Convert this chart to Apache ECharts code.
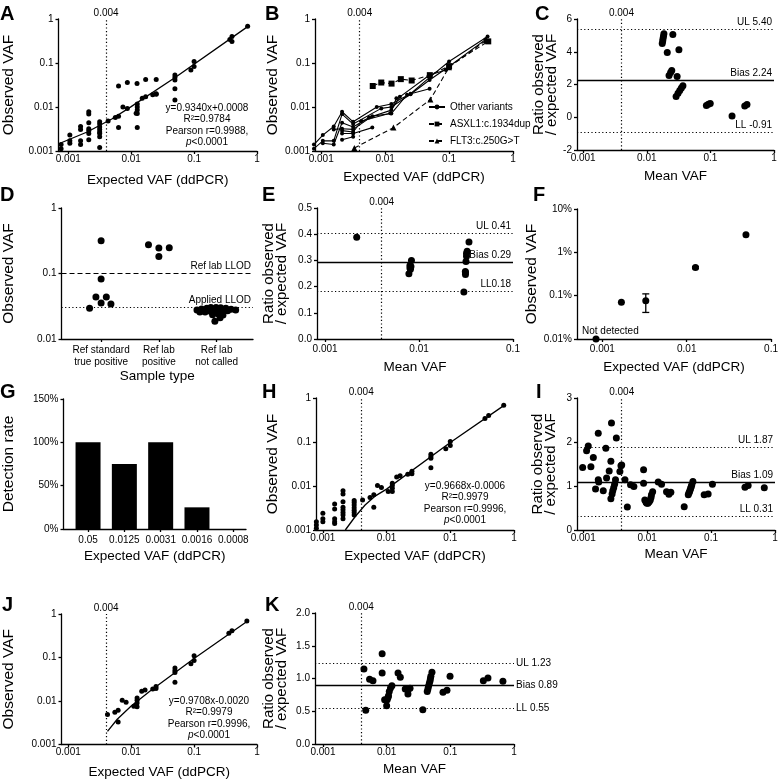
<!DOCTYPE html>
<html>
<head>
<meta charset="utf-8">
<title>VAF panels</title>
<script src="https://cdn.jsdelivr.net/npm/echarts@6/dist/echarts.min.js"></script>
<style>
html, body { margin: 0; padding: 0; background: #fff; }
#chart { width: 781px; height: 780px; }
</style>
</head>
<body>
<div id="chart"></div>
<script>
'use strict';

// ---- tick labels ----
var vafTicks = [0.001, 0.01, 0.1, 1];
var vafTickLabels = ['0.001', '0.01', '0.1', '1'];
var shortVafTicks = [0.001, 0.01, 0.1];
var shortVafTickLabels = ['0.001', '0.01', '0.1'];
var pctTicks = [0.0001, 0.001, 0.01, 0.1];
var pctTickLabels = ['0.01%', '0.1%', '1%', '10%'];
var dTicks = [0.01, 0.1, 1];
var dTickLabels = ['0.01', '0.1', '1'];
var lodVaf = 0.004;

// ---- A: observed vs expected, all variants ----
var aPoints = [
    [0.00077, 0.0014], [0.00077, 0.00113],
    [0.00106, 0.0017], [0.00106, 0.0023], [0.00106, 0.0015],
    [0.00157, 0.0036], [0.00157, 0.0031], [0.00157, 0.0017], [0.00157, 0.0014],
    [0.00212, 0.0078], [0.00212, 0.0069], [0.00212, 0.0044], [0.00212, 0.0032],
    [0.00212, 0.0029], [0.00212, 0.0025], [0.00212, 0.0018],
    [0.00316, 0.0046], [0.00316, 0.0041], [0.00316, 0.0035], [0.00316, 0.0031],
    [0.00316, 0.0027], [0.00316, 0.0025], [0.00316, 0.0021], [0.00316, 0.0012],
    [0.0043, 0.0048], [0.0056, 0.0058], [0.0063, 0.030], [0.0063, 0.0062], [0.0063, 0.0034],
    [0.0074, 0.010], [0.0087, 0.036], [0.0087, 0.0093],
    [0.012, 0.0072], [0.0124, 0.034], [0.0125, 0.0117], [0.0125, 0.010], [0.0125, 0.0085],
    [0.0125, 0.0071], [0.0125, 0.0034],
    [0.015, 0.0158], [0.017, 0.042], [0.017, 0.017], [0.022, 0.019], [0.025, 0.0195],
    [0.025, 0.042], [0.025, 0.020],
    [0.0496, 0.0535], [0.0496, 0.047], [0.0496, 0.041], [0.0496, 0.026], [0.0496, 0.0144],
    [0.089, 0.069], [0.1, 0.108], [0.1, 0.083], [0.37, 0.34], [0.4, 0.31], [0.4, 0.40], [0.71, 0.68]
];
var aFit = [[0.00074, 0.0015], [0.002, 0.0027], [0.005, 0.0054], [0.01, 0.0102], [0.05, 0.047], [0.71, 0.67]];
var aStats = ['y=0.9340x+0.0008', 'R\u00b2=0.9784', 'Pearson r=0.9988,', 'p<0.0001'];

// ---- B: per-variant dilution lines ----
var bOtherVariants = [
    [[0.00077, 0.0014], [0.00106, 0.0023], [0.00157, 0.0036], [0.00212, 0.0078], [0.00316, 0.0046],
     [0.0074, 0.010], [0.0125, 0.0117], [0.025, 0.020], [0.0496, 0.047], [0.1, 0.108], [0.4, 0.40]],
    [[0.00077, 0.00113], [0.00106, 0.0017], [0.00157, 0.0017], [0.00212, 0.0069], [0.00316, 0.0041],
     [0.0087, 0.0093], [0.0125, 0.010], [0.025, 0.0195], [0.0496, 0.041], [0.1, 0.083], [0.37, 0.34]],
    [[0.00106, 0.0015], [0.00157, 0.0014], [0.00212, 0.0044], [0.00316, 0.0035], [0.0056, 0.0058],
     [0.0125, 0.0085], [0.017, 0.017], [0.0496, 0.0535], [0.089, 0.069]],
    [[0.00157, 0.0031], [0.00212, 0.0032], [0.00316, 0.0031], [0.0063, 0.0062], [0.0125, 0.0071],
     [0.022, 0.019], [0.0496, 0.026]],
    [[0.00212, 0.0029], [0.00316, 0.0027], [0.0043, 0.0048], [0.012, 0.0072], [0.015, 0.0158]],
    [[0.00212, 0.0025], [0.00316, 0.0025], [0.0063, 0.0034]],
    [[0.00212, 0.0018], [0.00316, 0.0021]]
];
var bAsxl1 = [[0.0064, 0.030], [0.0087, 0.036], [0.0126, 0.034], [0.0176, 0.043], [0.026, 0.040],
    [0.05, 0.053], [0.1, 0.085], [0.41, 0.31]];
var bFlt3 = [[0.0033, 0.00117], [0.0135, 0.0034], [0.051, 0.0148], [0.1, 0.08], [0.38, 0.33]];
var bLegend = ['Other variants', 'ASXL1:c.1934dup', 'FLT3:c.250G>T'];

// ---- C: ratio vs mean VAF ----
var cPoints = [
    [0.0175, 4.5], [0.0178, 4.65], [0.018, 4.8], [0.0183, 4.95], [0.0186, 5.1],
    [0.021, 3.96], [0.0257, 5.06], [0.032, 4.12],
    [0.0224, 2.55], [0.0237, 2.73], [0.0247, 2.86], [0.030, 2.49],
    [0.0289, 1.27], [0.031, 1.47], [0.033, 1.63], [0.035, 1.78], [0.037, 1.92],
    [0.0865, 0.72], [0.093, 0.80], [0.0995, 0.84], [0.219, 0.08], [0.347, 0.68], [0.376, 0.78]
];
var cLimits = [5.40, 2.24, -0.91];
var cLimitLabels = ['UL 5.40', 'Bias 2.24', 'LL -0.91'];

// ---- D: observed VAF by sample type (x = category index + jitter) ----
var dCategories = ['Ref standard\ntrue positive', 'Ref lab\npositive', 'Ref lab\nnot called'];
var dTruePositive = [[0, 0.317], [0, 0.0824], [-0.09, 0.0438], [0.09, 0.0438], [0, 0.0355], [-0.2, 0.0294], [0.17, 0.0342]];
var dLabPositive = [[0.82, 0.275], [1, 0.245], [1.18, 0.248], [1, 0.181]];
var dNotCalled = [
    [1.66, 0.0278], [1.74, 0.0287], [1.83, 0.0294], [1.90, 0.0303], [1.99, 0.0303], [2.07, 0.030],
    [2.16, 0.0294], [2.25, 0.0285], [2.33, 0.0278], [1.71, 0.0258], [1.80, 0.0258], [1.90, 0.0263],
    [2.0, 0.0258], [2.10, 0.0263], [2.19, 0.027], [1.93, 0.0235], [2.03, 0.024], [2.11, 0.0232],
    [2.06, 0.0211], [1.97, 0.0187]
];
var dLimits = [0.1, 0.03];
var dLimitLabels = ['Ref lab LLOD', 'Applied LLOD'];

// ---- E ----
var ePoints = [
    [0.00217, 0.388], [0.0078, 0.249], [0.0080, 0.281], [0.0080, 0.271], [0.0083, 0.300],
    [0.0081, 0.266], [0.0082, 0.277], [0.030, 0.179], [0.0312, 0.254], [0.0312, 0.246],
    [0.0311, 0.258], [0.0316, 0.296], [0.032, 0.316], [0.032, 0.326], [0.0325, 0.335], [0.034, 0.370]
];
var eLimits = [0.405, 0.294, 0.182];
var eLimitLabels = ['UL 0.41', 'Bias 0.29', 'LL0.18'];

// ---- F ----
var fPoints = [[0.00168, 0.000706], [0.00327, 0.00076], [0.0127, 0.00447], [0.0504, 0.0255]];
var fNotDetected = [[0.00084, 0.0001]];
var fErrorBars = [[0.00327, 0.00041, 0.0011], [0.0127, 0.0042, 0.0047]];

// ---- G ----
var gCategories = ['0.05', '0.0125', '0.0031', '0.0016', '0.0008'];
var gDetectionRate = [1.0, 0.75, 1.0, 0.25, 0];

// ---- H ----
var hPoints = [
    [0.00079, 0.00155], [0.00079, 0.0013], [0.00079, 0.0011],
    [0.001, 0.0024], [0.001, 0.0018], [0.001, 0.00155],
    [0.00153, 0.0039], [0.00153, 0.0030], [0.00153, 0.0018], [0.00153, 0.00155], [0.00153, 0.0014],
    [0.00207, 0.0078], [0.00207, 0.0066], [0.00207, 0.0044], [0.00207, 0.0033], [0.00207, 0.0029],
    [0.00207, 0.0025], [0.00207, 0.0022], [0.00207, 0.0018],
    [0.0031, 0.0047], [0.0031, 0.0042], [0.0031, 0.0037], [0.0031, 0.0032], [0.0031, 0.0028],
    [0.0031, 0.0025], [0.0031, 0.0022],
    [0.0042, 0.0048], [0.0055, 0.0055], [0.0063, 0.0063], [0.0063, 0.0033], [0.0072, 0.0102],
    [0.0083, 0.0093], [0.0106, 0.0075],
    [0.0123, 0.0115], [0.0123, 0.0102], [0.0123, 0.0089], [0.0123, 0.0075],
    [0.0144, 0.016], [0.0163, 0.017], [0.0215, 0.0186], [0.025, 0.0215], [0.025, 0.019],
    [0.0496, 0.053], [0.0496, 0.047], [0.0496, 0.043], [0.0496, 0.026],
    [0.085, 0.070], [0.1, 0.103], [0.1, 0.083], [0.35, 0.34], [0.40, 0.40], [0.69, 0.68]
];
var hFit = [[0.00225, 0.001], [0.0032, 0.002], [0.0046, 0.0037], [0.0065, 0.0058], [0.01, 0.0085], [0.1, 0.097], [0.69, 0.67]];
var hStats = ['y=0.9668x-0.0006', 'R\u00b2=0.9979', 'Pearson r=0.9996,', 'p<0.0001'];

// ---- I ----
var iPoints = [
    [0.00098, 1.42], [0.00113, 1.80], [0.0012, 1.91], [0.00132, 1.44], [0.00144, 1.65], [0.00156, 0.93],
    [0.00172, 2.20], [0.00172, 1.14], [0.00175, 1.09], [0.00206, 0.89], [0.00226, 1.86], [0.00232, 1.18],
    [0.00255, 1.34], [0.00271, 1.56], [0.00277, 2.43], [0.00271, 0.71], [0.00283, 0.82], [0.0029, 0.89],
    [0.0030, 0.96], [0.0031, 1.04], [0.0033, 2.09], [0.0032, 1.14], [0.00375, 1.33], [0.0039, 1.46],
    [0.0040, 1.48], [0.0045, 1.14], [0.0049, 0.52], [0.0055, 1.03], [0.0062, 0.99], [0.0088, 1.37],
    [0.0088, 1.06], [0.0092, 0.68], [0.0096, 0.63], [0.0099, 0.61], [0.0103, 0.61], [0.0108, 0.64],
    [0.0112, 0.68], [0.0115, 0.74], [0.0117, 0.80], [0.0122, 0.87], [0.0149, 1.09], [0.0168, 1.04],
    [0.0201, 0.87], [0.0219, 0.81], [0.0235, 0.86], [0.038, 0.53], [0.044, 0.80], [0.045, 0.84],
    [0.046, 0.87], [0.047, 0.91], [0.048, 0.95], [0.049, 0.99], [0.050, 1.03], [0.052, 1.10],
    [0.078, 0.80], [0.090, 0.82], [0.105, 1.04], [0.339, 0.97], [0.38, 1.01], [0.68, 0.96]
];
var iLimits = [1.87, 1.09, 0.31];
var iLimitLabels = ['UL 1.87', 'Bias 1.09', 'LL 0.31'];

// ---- J ----
var jPoints = [
    [0.0042, 0.0049], [0.0055, 0.0055], [0.0062, 0.0061], [0.0062, 0.0033], [0.0072, 0.0104],
    [0.0083, 0.0093], [0.011, 0.0076], [0.0124, 0.0117], [0.0124, 0.0104], [0.0124, 0.009],
    [0.0124, 0.0074], [0.0147, 0.0167], [0.0166, 0.018], [0.022, 0.0188], [0.0248, 0.0216],
    [0.0248, 0.0195], [0.0496, 0.057], [0.0496, 0.050], [0.0496, 0.045], [0.0496, 0.027],
    [0.089, 0.072], [0.1, 0.109], [0.1, 0.085], [0.357, 0.36], [0.40, 0.41], [0.69, 0.69]
];
var jFit = [[0.0042, 0.002], [0.006, 0.0038], [0.01, 0.0077], [0.02, 0.017], [0.1, 0.095], [0.71, 0.69]];
var jStats = ['y=0.9708x-0.0020', 'R\u00b2=0.9979', 'Pearson r=0.9996,', 'p<0.0001'];

// ---- K ----
var kPoints = [
    [0.0044, 1.145], [0.0047, 0.514], [0.0054, 0.99], [0.0061, 0.967], [0.0085, 1.379], [0.0085, 1.084],
    [0.0093, 0.677], [0.010, 0.585], [0.0102, 0.677], [0.0105, 0.71], [0.0107, 0.738], [0.011, 0.80],
    [0.0115, 0.855], [0.0121, 0.89], [0.0151, 1.084], [0.0164, 1.018], [0.0196, 0.84], [0.0216, 0.82],
    [0.0216, 0.763], [0.0233, 0.85], [0.037, 0.524], [0.0434, 0.80], [0.0445, 0.84], [0.0455, 0.88],
    [0.0467, 0.92], [0.0478, 0.957], [0.0487, 0.995], [0.0495, 1.033], [0.0515, 1.094],
    [0.0767, 0.79], [0.0887, 0.82], [0.099, 1.033], [0.33, 0.967], [0.39, 1.008], [0.67, 0.957]
];
var kLimits = [1.23, 0.89, 0.55];
var kLimitLabels = ['UL 1.23', 'Bias 0.89', 'LL 0.55'];

// ---------------------------------------------------------------
var FONT = '"Liberation Sans", Arial, Helvetica, sans-serif';
var DOTTED = [1.2, 2.4];
var DASHED = [5, 3];

function baseAxis(grid, type, name, gap, labelMargin) {
    return {
        type: type,
        gridIndex: grid,
        name: name,
        nameLocation: 'middle',
        nameGap: gap,
        nameTextStyle: { color: '#000', fontSize: 13.5, fontFamily: FONT, lineHeight: 13 },
        axisLine: { onZero: false, lineStyle: { color: '#000', width: 1.3 } },
        axisTick: { length: 3, lineStyle: { color: '#000', width: 1.3 } },
        axisLabel: { color: '#000', fontSize: 10, fontFamily: FONT, margin: labelMargin },
        splitLine: { show: false }
    };
}

// vertical axis titles read a little larger in the reference
function tallName(axis) {
    var twoLines = axis.name.indexOf('\n') >= 0;
    axis.nameTextStyle.fontSize = twoLines ? 15 : 15.5;
    axis.nameTextStyle.lineHeight = twoLines ? 13 : 15;
    return axis;
}

function withTicks(axis, ticks, labels) {
    axis.axisTick.customValues = ticks;
    axis.axisLabel.customValues = ticks;
    axis.axisLabel.formatter = function (v) {
        for (var i = 0; i < ticks.length; i++) {
            if (Math.abs(v - ticks[i]) <= Math.abs(ticks[i]) * 1e-6 + 1e-9) {
                return labels[i];
            }
        }
        return '';
    };
    return axis;
}

function logAxis(grid, min, max, ticks, labels, name, gap, margin) {
    var axis = baseAxis(grid, 'log', name, gap, margin);
    axis.min = min;
    axis.max = max;
    axis.logBase = 10;
    return withTicks(axis, ticks, labels);
}

function valueAxis(grid, min, max, interval, decimals, name, gap, margin) {
    var axis = baseAxis(grid, 'value', name, gap, margin);
    axis.min = min;
    axis.max = max;
    axis.interval = interval;
    axis.axisLabel.formatter = function (v) { return v.toFixed(decimals); };
    return axis;
}

function indexAxis(grid, min, max, labels, name, gap, margin) {
    var axis = baseAxis(grid, 'value', name, gap, margin);
    axis.min = min;
    axis.max = max;
    var ticks = labels.map(function (l, i) { return i; });
    axis = withTicks(axis, ticks, labels);
    axis.axisLabel.lineHeight = 12;
    return axis;
}

var markLabel = { color: '#000', fontSize: 10, fontFamily: FONT };

function vLine(value) {
    return {
        xAxis: value,
        lineStyle: { type: DOTTED, width: 1.2, color: '#000' },
        label: Object.assign({ show: true, formatter: String(value), position: 'end', distance: 1 }, markLabel)
    };
}

function hLine(value, text, type, position) {
    return {
        yAxis: value,
        lineStyle: { type: type, width: type === 'solid' ? 1.3 : 1.2, color: '#000' },
        label: Object.assign({ show: true, formatter: text, position: position, distance: 2 }, markLabel)
    };
}

function limitLines(values, labels, position) {
    return values.map(function (v, i) {
        return hLine(v, labels[i], i === 1 ? 'solid' : DOTTED, position);
    });
}

function markLines(data) {
    return { silent: true, symbol: ['none', 'none'], animation: false, precision: 6, data: data };
}

function scatter(grid, data, size, lines) {
    var s = {
        type: 'scatter', xAxisIndex: grid, yAxisIndex: grid, data: data,
        symbol: 'circle', symbolSize: size, clip: false,
        itemStyle: { color: '#000', opacity: 1 }, silent: true
    };
    if (lines) { s.markLine = markLines(lines); }
    return s;
}

function fitLine(grid, data) {
    return {
        type: 'line', xAxisIndex: grid, yAxisIndex: grid, data: data,
        symbol: 'none', lineStyle: { color: '#000', width: 1.3 }, silent: true
    };
}

// ---- grids ----
var grids = [
    { left: 57, top: 19, width: 200, height: 132 },   // A
    { left: 315, top: 19, width: 198, height: 132 },  // B
    { left: 577, top: 19, width: 197, height: 131 },  // C
    { left: 60, top: 208, width: 193, height: 131 },  // D
    { left: 317, top: 208, width: 196, height: 131 }, // E
    { left: 577, top: 209, width: 198, height: 130 }, // F
    { left: 60, top: 399, width: 186, height: 130 },  // G
    { left: 316, top: 398, width: 198, height: 132 }, // H
    { left: 577, top: 398, width: 198, height: 132 }, // I
    { left: 60, top: 614, width: 197, height: 131 },  // J
    { left: 315, top: 613, width: 199, height: 131 }  // K
];

var EXP = 'Expected VAF (ddPCR)';
var MEAN = 'Mean VAF';
var OBS = 'Observed VAF';
var RATIO = 'Ratio observed\n/ expected VAF';

var xAxes = [
    logAxis(0, 0.0007, 1, vafTicks, vafTickLabels, EXP, 23, 3),
    logAxis(1, 0.0008, 1, vafTicks, vafTickLabels, EXP, 20, 3),
    logAxis(2, 0.0008, 1, vafTicks, vafTickLabels, MEAN, 20, 3),
    indexAxis(3, -0.686, 2.63, dCategories, 'Sample type', 31, 5),
    logAxis(4, 0.00082, 0.1, shortVafTicks, shortVafTickLabels, MEAN, 22, 5),
    logAxis(5, 0.0005, 0.1, shortVafTicks, shortVafTickLabels, EXP, 22, 5),
    indexAxis(6, -0.676, 4.35, gCategories, EXP, 21, 5),
    logAxis(7, 0.00078, 1, vafTicks, vafTickLabels, EXP, 20, 3),
    logAxis(8, 0.0008, 1, vafTicks, vafTickLabels, MEAN, 18, 3),
    logAxis(9, 0.00078, 1, vafTicks, vafTickLabels, EXP, 21, 3),
    logAxis(10, 0.00075, 1, vafTicks, vafTickLabels, MEAN, 19, 3)
];

var gAxis = valueAxis(6, 0, 1.5, 0.5, 0, 'Detection rate', 47, 5);
gAxis.axisLabel.formatter = function (v) { return Math.round(v * 100) + '%'; };

var yAxes = [
    logAxis(0, 0.001, 1, vafTicks, vafTickLabels, OBS, 42, 5),
    logAxis(1, 0.001, 1, vafTicks, vafTickLabels, OBS, 35, 5),
    valueAxis(2, -2, 6, 2, 0, RATIO, 14, 5),
    logAxis(3, 0.01, 1, dTicks, dTickLabels, OBS, 45, 5),
    valueAxis(4, 0, 0.5, 0.1, 1, RATIO, 29, 5),
    logAxis(5, 0.0001, 0.1, pctTicks, pctTickLabels, OBS, 29, 5),
    gAxis,
    logAxis(7, 0.001, 1, vafTicks, vafTickLabels, OBS, 36, 5),
    valueAxis(8, 0, 3, 1, 0, RATIO, 20, 5),
    logAxis(9, 0.001, 1, vafTicks, vafTickLabels, OBS, 45, 5),
    valueAxis(10, 0, 2, 0.5, 1, RATIO, 27, 5)
].map(tallName);

// ---- series ----
var series = [];

// A
series.push(scatter(0, aPoints, 5, [vLine(lodVaf)]));
series.push(fitLine(0, aFit));

// B
bOtherVariants.forEach(function (line, i) {
    var s = {
        type: 'line', name: bLegend[0], xAxisIndex: 1, yAxisIndex: 1, data: line,
        symbol: 'circle', symbolSize: 4, clip: false,
        lineStyle: { color: '#000', width: 1.1 }, itemStyle: { color: '#000' }, silent: true
    };
    if (i === 0) { s.markLine = markLines([vLine(lodVaf)]); }
    series.push(s);
});
series.push({
    type: 'line', name: bLegend[1], xAxisIndex: 1, yAxisIndex: 1, data: bAsxl1,
    symbol: 'rect', symbolSize: 6, lineStyle: { color: '#000', width: 1.1, type: DASHED },
    itemStyle: { color: '#000' }, silent: true
});
series.push({
    type: 'line', name: bLegend[2], xAxisIndex: 1, yAxisIndex: 1, data: bFlt3,
    symbol: 'triangle', symbolSize: 6, clip: false, lineStyle: { color: '#000', width: 1.1, type: DASHED },
    itemStyle: { color: '#000' }, silent: true
});

// C
series.push(scatter(2, cPoints, 7, [vLine(lodVaf)].concat(limitLines(cLimits, cLimitLabels, 'insideEndTop'))));

// D
series.push(scatter(3, dTruePositive, 7, [
    hLine(dLimits[0], dLimitLabels[0], DASHED, 'insideEndTop'),
    hLine(dLimits[1], dLimitLabels[1], DOTTED, 'insideEndTop')
]));
series.push(scatter(3, dLabPositive, 7));
series.push(scatter(3, dNotCalled, 7));

// E
series.push(scatter(4, ePoints, 7, [vLine(lodVaf)].concat(limitLines(eLimits, eLimitLabels, 'insideEndTop'))));

// F
series.push(scatter(5, fPoints, 7));
series.push(scatter(5, fNotDetected, 7));
series.push({
    type: 'custom', xAxisIndex: 5, yAxisIndex: 5, data: fErrorBars, silent: true,
    encode: { x: 0, y: [1, 2] },
    renderItem: function (params, api) {
        var lo = api.coord([api.value(0), api.value(1)]);
        var hi = api.coord([api.value(0), api.value(2)]);
        var w = 3.5;
        var st = { stroke: '#000', lineWidth: 1.3 };
        return {
            type: 'group',
            children: [
                { type: 'line', shape: { x1: lo[0], y1: lo[1], x2: hi[0], y2: hi[1] }, style: st },
                { type: 'line', shape: { x1: lo[0] - w, y1: lo[1], x2: lo[0] + w, y2: lo[1] }, style: st },
                { type: 'line', shape: { x1: hi[0] - w, y1: hi[1], x2: hi[0] + w, y2: hi[1] }, style: st }
            ]
        };
    }
});

// G
series.push({
    type: 'bar', xAxisIndex: 6, yAxisIndex: 6, barWidth: 25, silent: true,
    data: gDetectionRate.map(function (r, i) { return [i, r]; }),
    itemStyle: { color: '#000' }
});

// H
series.push(scatter(7, hPoints, 5, [vLine(lodVaf)]));
series.push(fitLine(7, hFit));

// I
series.push(scatter(8, iPoints, 7, [vLine(lodVaf)].concat(limitLines(iLimits, iLimitLabels, 'insideEndTop'))));

// J
series.push(scatter(9, jPoints, 5, [vLine(lodVaf)]));
series.push(fitLine(9, jFit));

// K
series.push(scatter(10, kPoints, 7, [vLine(lodVaf)].concat(limitLines(kLimits, kLimitLabels, 'end'))));

// ---- texts ----
function letter(ch, x, y) {
    return {
        type: 'text', left: x, top: y, silent: true,
        style: { text: ch, fill: '#000', font: 'bold 20px ' + FONT }
    };
}

function statBlock(lines, cx, cy) {
    return lines.map(function (t, i) {
        var txt = t.charAt(0) === 'p' ? '{i|p}' + t.slice(1) : t;
        return {
            type: 'text', x: cx, y: cy + i * 11.5, silent: true,
            style: {
                text: txt, fill: '#000', fontSize: 10, fontFamily: FONT,
                textAlign: 'center', textVerticalAlign: 'middle',
                rich: { i: { fontStyle: 'italic', fontSize: 10, fontFamily: FONT, fill: '#000' } }
            }
        };
    });
}

var graphics = [
    letter('A', 0, 4), letter('B', 265, 4), letter('C', 535, 4),
    letter('D', 0, 185), letter('E', 262, 185), letter('F', 533, 185),
    letter('G', 0, 382), letter('H', 262, 382), letter('I', 536, 382),
    letter('J', 2, 595), letter('K', 265, 595),
    {
        type: 'text', x: 582, y: 331, silent: true,
        style: { text: 'Not detected', fill: '#000', fontSize: 10, fontFamily: FONT, textVerticalAlign: 'middle' }
    }
].concat(statBlock(aStats, 207, 108), statBlock(hStats, 465, 486), statBlock(jStats, 209, 701));

var chart = echarts.init(document.getElementById('chart'));
chart.setOption({
    animation: false,
    color: ['#000'],
    textStyle: { fontFamily: FONT, color: '#000' },
    grid: grids,
    xAxis: xAxes,
    yAxis: yAxes,
    legend: {
        data: bLegend,
        left: 428, top: 102, orient: 'vertical',
        itemWidth: 16, itemHeight: 6, itemGap: 7, padding: 0,
        selectedMode: false,
        textStyle: { fontSize: 10, color: '#000', fontFamily: FONT }
    },
    graphic: graphics,
    series: series
});
</script>
</body>
</html>
